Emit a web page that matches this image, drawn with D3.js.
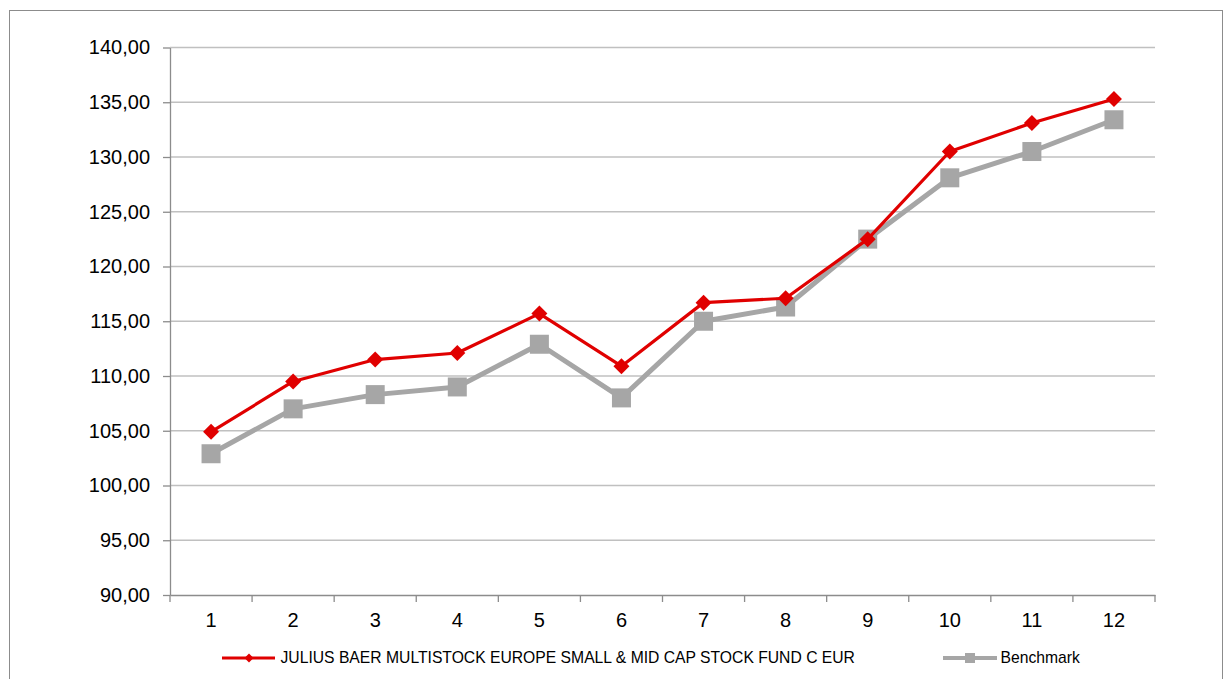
<!DOCTYPE html>
<html><head><meta charset="utf-8">
<script src="https://cdn.jsdelivr.net/npm/d3@7"></script>
<style>html,body{margin:0;padding:0;background:#fff;overflow:hidden}svg{display:block}</style>
</head><body>
<svg id="c" width="1224" height="679"></svg>
<script>
const categories = ["1","2","3","4","5","6","7","8","9","10","11","12"];
const fundName = "JULIUS BAER MULTISTOCK EUROPE SMALL & MID CAP STOCK FUND C EUR";
const fundValues = [104.9, 109.5, 111.5, 112.1, 115.7, 110.9, 116.7, 117.1, 122.5, 130.5, 133.1, 135.3];
const benchName = "Benchmark";
const benchValues = [102.9, 107.0, 108.3, 109.0, 112.9, 108.0, 115.0, 116.3, 122.5, 128.1, 130.5, 133.4];
const yTicks = [90, 95, 100, 105, 110, 115, 120, 125, 130, 135, 140];

const svg = d3.select("#c");
const font = "'Liberation Sans', Arial, sans-serif";
const L = 170, R = 1155, T = 47.5, B = 595;

svg.append("rect").attr("x", 9.5).attr("y", 10.5).attr("width", 1213).attr("height", 700)
  .attr("fill", "none").attr("stroke", "#8c8c8c").attr("stroke-width", 1);

const x = d3.scaleBand().domain(categories).range([L, R]);
const y = d3.scaleLinear().domain([90, 140]).range([B, T]);

// gridlines
svg.append("g").selectAll("line").data(yTicks.filter(d => d !== 90)).join("line")
  .attr("x1", L).attr("x2", R).attr("y1", d => y(d)).attr("y2", d => y(d))
  .attr("stroke", "#c0c0c0").attr("stroke-width", 1.3);

// y axis
const yAxis = d3.axisLeft(y).tickValues(yTicks).tickSizeInner(7).tickSizeOuter(0)
  .tickFormat(d => d3.format(".2f")(d).replace(".", ","));
const gy = svg.append("g").attr("transform", `translate(${L},0)`).call(yAxis);
gy.select(".domain").attr("stroke", "#8c8c8c").attr("stroke-width", 1.3);
gy.selectAll(".tick line").attr("stroke", "#8c8c8c").attr("stroke-width", 1.3);
gy.selectAll(".tick text").attr("x", -20).attr("font-family", font).attr("font-size", 20).attr("fill", "#000");

// x axis
const xAxis = d3.axisBottom(x).tickSize(0).tickSizeOuter(0);
const gx = svg.append("g").attr("transform", `translate(0,${B})`).call(xAxis);
gx.select(".domain").attr("stroke", "#8c8c8c").attr("stroke-width", 1.3);
gx.selectAll(".tick text").attr("y", 18).attr("dy", "0.71em").attr("font-family", font).attr("font-size", 20).attr("fill", "#000");
// boundary ticks
const bounds = categories.map(c => x(c)).concat([R]);
svg.append("g").selectAll("line").data(bounds).join("line")
  .attr("x1", d => d).attr("x2", d => d).attr("y1", B).attr("y2", B + 7)
  .attr("stroke", "#8c8c8c").attr("stroke-width", 1.3);

const cx = c => x(c) + x.bandwidth() / 2;
const line = d3.line().x(d => cx(d.c)).y(d => y(d.v));

const bench = categories.map((c, i) => ({c, v: benchValues[i]}));
const fund = categories.map((c, i) => ({c, v: fundValues[i]}));

svg.append("path").datum(bench).attr("d", line).attr("fill", "none")
  .attr("stroke", "#a6a6a6").attr("stroke-width", 5).attr("stroke-linejoin", "round");
svg.append("g").selectAll("rect").data(bench).join("rect")
  .attr("x", d => cx(d.c) - 9.5).attr("y", d => y(d.v) - 9.5).attr("width", 19).attr("height", 19)
  .attr("fill", "#a6a6a6");

svg.append("path").datum(fund).attr("d", line).attr("fill", "none")
  .attr("stroke", "#e00000").attr("stroke-width", 3.2).attr("stroke-linejoin", "round");
const diamond = (px, py, r) => `M${px},${py - r}L${px + r},${py}L${px},${py + r}L${px - r},${py}Z`;
svg.append("g").selectAll("path").data(fund).join("path")
  .attr("d", d => diamond(cx(d.c), y(d.v), 8)).attr("fill", "#e00000");

// legend
const ly = 658;
const lg = svg.append("g");
lg.append("line").attr("x1", 222).attr("x2", 275).attr("y1", ly).attr("y2", ly)
  .attr("stroke", "#e00000").attr("stroke-width", 3.2);
lg.append("path").attr("d", diamond(249, ly, 4.5)).attr("fill", "#e00000");
lg.append("text").attr("x", 280.5).attr("y", ly).attr("dy", "0.35em")
  .attr("font-family", font).attr("font-size", 15.7).attr("fill", "#000").text(fundName);
lg.append("line").attr("x1", 943).attr("x2", 997).attr("y1", ly).attr("y2", ly)
  .attr("stroke", "#a6a6a6").attr("stroke-width", 4);
lg.append("rect").attr("x", 965).attr("y", ly - 5).attr("width", 10).attr("height", 10).attr("fill", "#a6a6a6");
lg.append("text").attr("x", 1000.5).attr("y", ly).attr("dy", "0.35em")
  .attr("font-family", font).attr("font-size", 15.7).attr("fill", "#000").text(benchName);
</script>
</body></html>
